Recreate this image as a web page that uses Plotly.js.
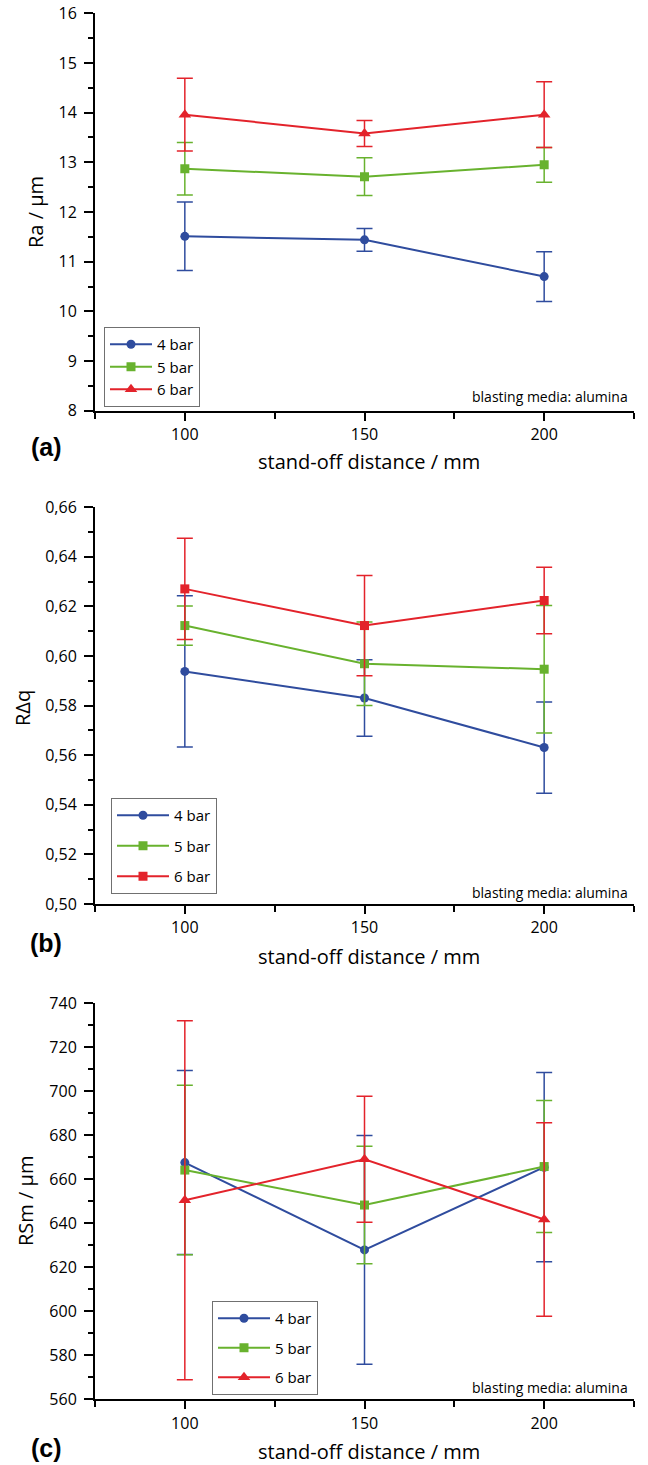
<!DOCTYPE html>
<html>
<head>
<meta charset="utf-8">
<script src="https://cdn.plot.ly/plotly-3.0.1.min.js"></script>
<style>html,body{margin:0;padding:0;background:#fff;}#chart{width:648px;height:1465px;}</style>
</head>
<body>
<div id="chart"></div>
<script>
// ---- data ----
const distance = [100, 150, 200];
const seriesNames = ['4 bar', '5 bar', '6 bar'];

const ra4 = [11.51, 11.44, 10.70];
const ra4Err = [0.69, 0.23, 0.50];
const ra5 = [12.87, 12.71, 12.95];
const ra5Err = [0.53, 0.38, 0.35];
const ra6 = [13.96, 13.58, 13.96];
const ra6Err = [0.73, 0.26, 0.66];

const rdq4 = [0.5938, 0.5831, 0.5631];
const rdq4Err = [0.0305, 0.0154, 0.0184];
const rdq5 = [0.6123, 0.5969, 0.5947];
const rdq5Err = [0.0079, 0.0168, 0.0257];
const rdq6 = [0.6271, 0.6123, 0.6224];
const rdq6Err = [0.0204, 0.0202, 0.0134];

const rsm4 = [667.6, 627.9, 665.5];
const rsm4Err = [41.8, 52.0, 43.0];
const rsm5 = [664.2, 648.3, 665.8];
const rsm5Err = [38.5, 26.7, 30.0];
const rsm6 = [650.5, 669.1, 641.7];
const rsm6Err = [81.6, 28.6, 44.0];

// ---- styles ----
const colors = ['#2f4c9e', '#68b22e', '#e3232b'];
const FONT = 'Open Sans, Liberation Sans, sans-serif';

function tr(y, err, i, symbol, xa, ya, legend, group) {
  return {
    x: distance, y: y, name: seriesNames[i], type: 'scatter', mode: 'lines+markers',
    xaxis: xa, yaxis: ya, legend: legend, legendgroup: group,
    line: {color: colors[i], width: 2},
    marker: {color: colors[i], symbol: symbol, size: symbol === 'triangle-up' ? 11 : 9},
    error_y: {type: 'data', array: err, visible: true, color: colors[i], thickness: 1.5, width: 8}
  };
}

const data = [
  tr(ra4, ra4Err, 0, 'circle', 'x', 'y', 'legend', 'a4'),
  tr(ra5, ra5Err, 1, 'square', 'x', 'y', 'legend', 'a5'),
  tr(ra6, ra6Err, 2, 'triangle-up', 'x', 'y', 'legend', 'a6'),
  tr(rdq4, rdq4Err, 0, 'circle', 'x2', 'y2', 'legend2', 'b4'),
  tr(rdq5, rdq5Err, 1, 'square', 'x2', 'y2', 'legend2', 'b5'),
  tr(rdq6, rdq6Err, 2, 'square', 'x2', 'y2', 'legend2', 'b6'),
  tr(rsm4, rsm4Err, 0, 'circle', 'x3', 'y3', 'legend3', 'c4'),
  tr(rsm5, rsm5Err, 1, 'square', 'x3', 'y3', 'legend3', 'c5'),
  tr(rsm6, rsm6Err, 2, 'triangle-up', 'x3', 'y3', 'legend3', 'c6')
];

const H = 1465, W = 648;
const py = v => 1 - v / H;
const px = v => v / W;
const xDom = [px(95), px(634)];

function xAxis(anchor) {
  return {
    domain: xDom, range: [75, 225], anchor: anchor,
    tickmode: 'linear', tick0: 0, dtick: 50,
    ticks: 'outside', ticklen: 8, tickwidth: 2, tickcolor: '#000',
    minor: {tick0: 0, dtick: 25, ticks: 'outside', ticklen: 6, tickwidth: 2, tickcolor: '#000'},
    showline: true, linecolor: '#000', linewidth: 2,
    showgrid: false, zeroline: false,
    tickfont: {family: FONT, size: 16, color: '#000'}
  };
}
function yAxis(anchor, dom, range, dtick, fmt) {
  return {
    domain: dom, range: range, anchor: anchor,
    tickmode: 'linear', tick0: range[0], dtick: dtick, tickformat: fmt,
    ticks: 'outside', ticklen: 9, tickwidth: 2, tickcolor: '#000',
    minor: {tick0: range[0], dtick: dtick / 2, ticks: 'outside', ticklen: 5, tickwidth: 2, tickcolor: '#000'},
    showline: true, linecolor: '#000', linewidth: 2,
    showgrid: false, zeroline: false, ticklabelstandoff: 4,
    tickfont: {family: FONT, size: 16, color: '#000'}
  };
}
function legendBox(x, y, gap, iw) {
  return {
    x: x, y: y, xanchor: 'left', yanchor: 'top',
    bgcolor: '#fff', bordercolor: '#707070', borderwidth: 1,
    font: {family: FONT, size: 15, color: '#000'},
    tracegroupgap: gap, itemwidth: iw, traceorder: 'grouped'
  };
}

function ann(text, x, y, opts) {
  return Object.assign({text: text, xref: 'paper', yref: 'paper', x: px(x), y: py(y),
    showarrow: false, xanchor: 'center', yanchor: 'middle',
    font: {family: FONT, size: 20, color: '#000'}}, opts || {});
}

const annotations = [];
const panels = [
  {lab: '(a)', labY: 447, xt: 462, ytTxt: 'Ra / µm', ytX: 35, ytY: 212, noteY: 397},
  {lab: '(b)', labY: 943, xt: 956, ytTxt: 'RΔq', ytX: 23, ytY: 708, noteY: 892},
  {lab: '(c)', labY: 1448, xt: 1451, ytTxt: 'RSm / µm', ytX: 25, ytY: 1201, noteY: 1387}
];
panels.forEach(p => {
  annotations.push(ann(p.lab, 46, p.labY, {font: {family: 'Liberation Sans, Arial, sans-serif', size: 25, color: '#000', weight: 'bold'}}));
  annotations.push(ann('stand-off distance / mm', 369, p.xt));
  annotations.push(ann(p.ytTxt, p.ytX, p.ytY, {textangle: -90}));
  annotations.push(ann('blasting media: alumina', 630, p.noteY, {xanchor: 'right', font: {family: FONT, size: 14, color: '#000'}}));
});

const layout = {
  width: W, height: H,
  margin: {l: 0, r: 0, t: 0, b: 0},
  paper_bgcolor: '#fff', plot_bgcolor: '#fff',
  separators: ', ',
  font: {family: FONT, size: 16, color: '#000'},
  showlegend: true,
  xaxis: xAxis('y'),
  yaxis: yAxis('x', [py(410.7), py(13.3)], [8, 16], 1, 'd'),
  xaxis2: xAxis('y2'),
  yaxis2: yAxis('x2', [py(904), py(507.3)], [0.50, 0.66], 0.02, '.2f'),
  xaxis3: xAxis('y3'),
  yaxis3: yAxis('x3', [py(1399.3), py(1003.3)], [560, 740], 20, 'd'),
  legend: legendBox(px(104), py(327), 0, 42),
  legend2: legendBox(px(111), py(798), 8, 52),
  legend3: legendBox(px(212), py(1301), 7, 52),
  annotations: annotations
};

Plotly.newPlot('chart', data, layout, {staticPlot: true, displayModeBar: false});
</script>
</body>
</html>
